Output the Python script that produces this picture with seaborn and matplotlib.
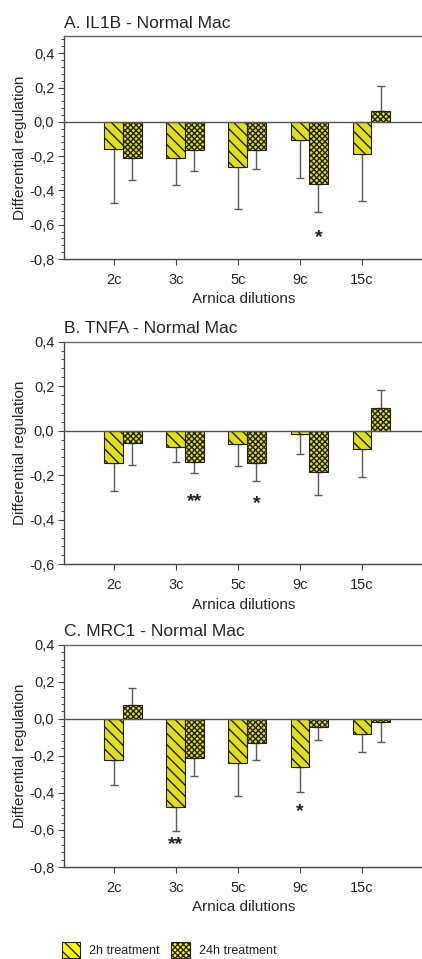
import matplotlib
matplotlib.use('Agg')
import matplotlib.pyplot as plt
import pandas as pd
import seaborn as sns
from matplotlib.ticker import AutoMinorLocator, MultipleLocator, FuncFormatter
from matplotlib.patches import Patch

# Data
dilutions = ['2c', '3c', '5c', '9c', '15c']
treatments = ['2h treatment', '24h treatment']

il1b_2h = [-0.160, -0.210, -0.265, -0.105, -0.190]
il1b_2h_err = [0.315, 0.160, 0.243, 0.220, 0.270]
il1b_24h = [-0.210, -0.163, -0.163, -0.364, 0.065]
il1b_24h_err = [0.129, 0.123, 0.111, 0.162, 0.146]

tnfa_2h = [-0.147, -0.072, -0.060, -0.015, -0.081]
tnfa_2h_err = [0.123, 0.067, 0.100, 0.091, 0.127]
tnfa_24h = [-0.057, -0.142, -0.144, -0.184, 0.101]
tnfa_24h_err = [0.096, 0.048, 0.082, 0.106, 0.082]

mrc1_2h = [-0.222, -0.474, -0.237, -0.262, -0.084]
mrc1_2h_err = [0.133, 0.132, 0.177, 0.132, 0.093]
mrc1_24h = [0.077, -0.212, -0.132, -0.042, -0.018]
mrc1_24h_err = [0.089, 0.096, 0.091, 0.074, 0.109]

# significance marks: (dilution, treatment index, text, y)
il1b_stars = [('9c', 1, '*', -0.675)]
tnfa_stars = [('3c', 1, '**', -0.32), ('5c', 1, '*', -0.326)]
mrc1_stars = [('3c', 0, '**', -0.68), ('9c', 0, '*', -0.5)]

YELLOW = '#ffff00'
HATCHES = ['\\\\\\', 'xxxxxx']

sns.set_style('ticks')
plt.rcParams['font.family'] = ['Liberation Sans', 'DejaVu Sans']
plt.rcParams['hatch.linewidth'] = 1.0


def fmt_comma(v, pos):
    return f"{round(v, 1) + 0.0:.1f}".replace('.', ',')


def draw_panel(ax, title, v2, e2, v24, e24, ylim, stars):
    df = pd.DataFrame({
        'dilution': dilutions * 2,
        'treatment': [treatments[0]] * len(dilutions) + [treatments[1]] * len(dilutions),
        'value': v2 + v24,
    })
    sns.barplot(data=df, x='dilution', y='value', hue='treatment', order=dilutions,
                hue_order=treatments, palette=[YELLOW, YELLOW], width=0.6,
                errorbar=None, edgecolor='#222222', linewidth=0.8, legend=False,
                zorder=3, ax=ax)

    errs = [e2, e24]
    vals = [v2, v24]
    bar_groups = list(ax.containers)
    centers = []
    for k, cont in enumerate(bar_groups):
        xs = []
        for bar in cont:
            bar.set_hatch(HATCHES[k])
            xs.append(bar.get_x() + bar.get_width() / 2)
        centers.append(xs)
        lower = [e if v < 0 else 0 for v, e in zip(vals[k], errs[k])]
        upper = [e if v > 0 else 0 for v, e in zip(vals[k], errs[k])]
        ax.errorbar(xs, vals[k], yerr=[lower, upper], fmt='none', ecolor='#5a5a5a',
                    elinewidth=1, capsize=3, capthick=1, zorder=2)

    ax.axhline(0, color='#555555', lw=1, zorder=4)

    for dil, k, txt, y in stars:
        x = centers[k][dilutions.index(dil)]
        ax.text(x, y, txt, ha='center', va='center', fontsize=14, fontweight='bold',
                color='#222222')

    ax.set_xticks(centers[0])
    ax.set_xticklabels(dilutions)
    ax.set_xlim(centers[0][0] - 0.8, centers[0][0] + 5.0)
    ax.set_ylim(*ylim)
    ax.yaxis.set_major_locator(MultipleLocator(0.2))
    ax.yaxis.set_minor_locator(AutoMinorLocator(5))
    ax.yaxis.set_major_formatter(FuncFormatter(fmt_comma))

    ax.tick_params(axis='both', which='major', length=4, width=0.8, labelsize=10.5,
                   pad=3, color='#444444')
    ax.tick_params(axis='x', which='major', pad=6)
    ax.tick_params(axis='y', which='minor', length=2.5, width=0.7, color='#444444')
    ax.tick_params(axis='x', which='minor', bottom=False)

    for side in ['left', 'bottom']:
        ax.spines[side].set_color('#444444')
        ax.spines[side].set_linewidth(1)
    ax.spines['top'].set_visible(True)
    ax.spines['top'].set_color('#666666')
    ax.spines['top'].set_linewidth(1)
    ax.spines['right'].set_visible(False)

    ax.set_xlabel('Arnica dilutions', fontsize=11, labelpad=4)
    ax.set_ylabel('Differential regulation', fontsize=11)
    ax.yaxis.set_label_coords(-0.102, 0.5)
    ax.set_title(title, loc='left', fontsize=12.5, pad=6)


fig = plt.figure(figsize=(4.22, 9.59), dpi=100)

ax1 = fig.add_axes([0.1517, 0.7299, 0.853, 0.2325])
draw_panel(ax1, 'A. IL1B - Normal Mac', il1b_2h, il1b_2h_err, il1b_24h, il1b_24h_err,
           (-0.8, 0.5), il1b_stars)

ax2 = fig.add_axes([0.1517, 0.4116, 0.853, 0.2321])
draw_panel(ax2, 'B. TNFA - Normal Mac', tnfa_2h, tnfa_2h_err, tnfa_24h, tnfa_24h_err,
           (-0.6, 0.4), tnfa_stars)

ax3 = fig.add_axes([0.1517, 0.0959, 0.853, 0.2318])
draw_panel(ax3, 'C. MRC1 - Normal Mac', mrc1_2h, mrc1_2h_err, mrc1_24h, mrc1_24h_err,
           (-0.8, 0.4), mrc1_stars)

handles = [Patch(facecolor=YELLOW, edgecolor='#222222', hatch=h, linewidth=0.8) for h in HATCHES]
fig.legend(handles, treatments, loc='lower left', bbox_to_anchor=(62 / 422, 1 / 959),
           ncol=2, frameon=False, fontsize=9, handlelength=1.45, handleheight=1.6,
           handletextpad=0.75, columnspacing=0.9, borderpad=0, borderaxespad=0)

fig.savefig('out.png', dpi=100)
